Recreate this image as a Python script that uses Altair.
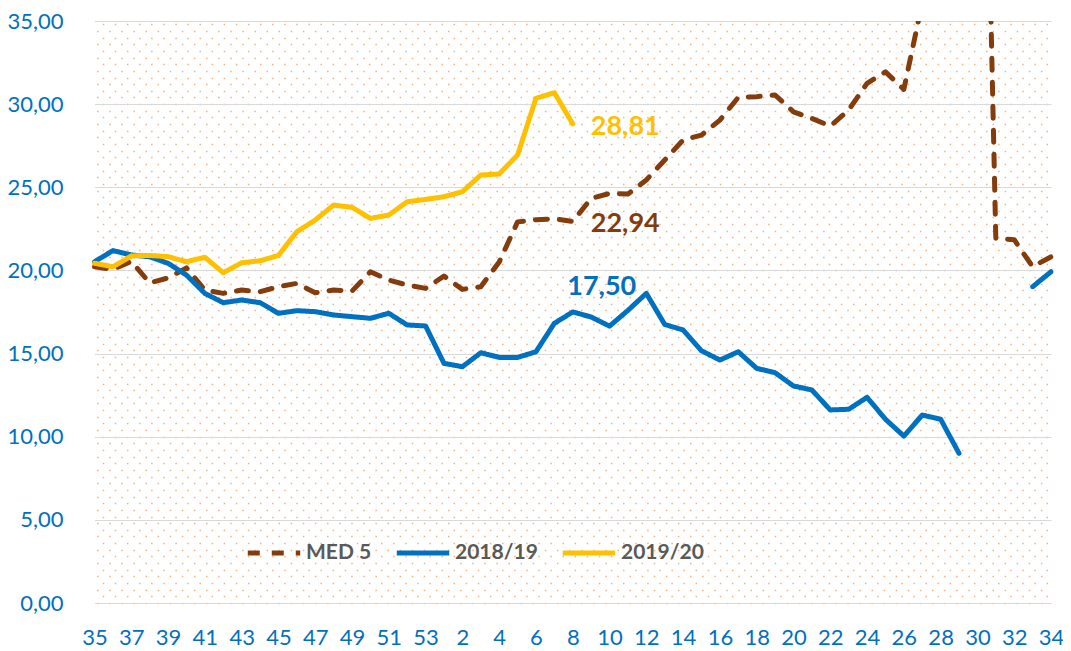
import altair as alt
import pandas as pd

# ---------------- data ----------------
weeks = [str(w) for w in list(range(35, 54)) + list(range(1, 35))]
x_label_values = weeks[::2]
y_ticks = [0, 5, 10, 15, 20, 25, 30, 35]

series_names = ["MED 5", "2018/19", "2019/20"]
series_colors = ["#843C0C", "#0070C0", "#FFC000"]

med5 = [20.22, 20.06, 20.55, 19.25, 19.55, 20.15, 18.82, 18.62, 18.82, 18.72,
        19.02, 19.22, 18.66, 18.82, 18.76, 19.92, 19.42, 19.12, 18.92, 19.66,
        18.86, 19.02, 20.50, 22.92, 23.05, 23.10, 22.94, 24.33, 24.63, 24.59,
        25.44, 26.64, 27.84, 28.14, 29.04, 30.41, 30.45, 30.55, 29.54, 29.14,
        28.68, 29.65, 31.25, 31.94, 30.89, 36.10, 45.00, 58.00, 72.00, 21.93,
        21.85, 20.22, 20.82]

s1819 = [20.52, 21.19, 20.93, 20.82, 20.43, 19.72, 18.62, 18.06, 18.22, 18.06,
         17.42, 17.58, 17.52, 17.32, 17.22, 17.12, 17.42, 16.72, 16.66, 14.41,
         14.21, 15.05, 14.77, 14.77, 15.11, 16.82, 17.50, 17.20, 16.65, 17.60,
         18.62, 16.75, 16.42, 15.17, 14.61, 15.11, 14.11, 13.85, 13.05, 12.81,
         11.61, 11.65, 12.37, 11.05, 10.04, 11.30, 11.05, 9.00, None, None,
         None, 19.02, 19.92]

s1920 = [20.43, 20.22, 20.87, 20.90, 20.83, 20.52, 20.79, 19.86, 20.46, 20.58,
         20.90, 22.33, 23.03, 23.93, 23.79, 23.13, 23.33, 24.13, 24.27, 24.43,
         24.73, 25.74, 25.80, 26.94, 30.35, 30.69, 28.81]

label_index = 26  # week 8


def fmt(v):
    return f"{v:.2f}".replace(".", ",")


rows = []
for name, vals in zip(series_names, [med5, s1819, s1920]):
    seg = 0
    gap = False
    for i, v in enumerate(vals):
        if v is None:
            gap = True
            continue
        if gap:
            seg += 1
            gap = False
        rows.append({"week": weeks[i], "value": v, "series": name,
                     "seg": f"{name}-{seg}", "order": i})
df = pd.DataFrame(rows)

# ---------------- styling ----------------
FONT = "Lato"
BLUE_TXT = "#0070C0"

y_scale = alt.Scale(domain=[0, 35], nice=False, zero=True)
x_enc = alt.X(
    "week:O", sort=weeks,
    scale=alt.Scale(type="point", range=[10.5, 967], padding=0),
    axis=alt.Axis(values=x_label_values, labelAngle=0, ticks=False, tickSize=0,
                  domain=False, grid=False, labelPadding=24, labelFont=FONT,
                  labelFontSize=22, labelColor=BLUE_TXT, title=None),
)

# dotted background pattern drawn as dashed grid rows (decoration)
row_step = 0.4
row_vals = [round(k * row_step, 2) for k in range(0, int(35 / row_step) + 1)]
rows_odd = [v for k, v in enumerate(row_vals) if k % 2 == 1]
rows_even = [v for k, v in enumerate(row_vals) if k % 2 == 0]


def pattern_layer(vals, offset):
    return alt.Chart(df).mark_line(strokeOpacity=0).encode(
        x=x_enc,
        y=alt.Y("value:Q", scale=y_scale,
                axis=alt.Axis(values=vals, grid=True, gridColor="#F4B183",
                              gridWidth=1.5, gridDash=[1.5, 10.6],
                              gridDashOffset=offset, labels=False, ticks=False,
                              domain=False, title=None, orient="right")),
        detail="seg:N",
    )


pat_a = pattern_layer(rows_odd, 7.1)
pat_b = pattern_layer(rows_even, 1.5)

legend = alt.Legend(title=None, orient="none", legendX=161, legendY=503,
                    direction="horizontal", symbolType="stroke",
                    symbolSize=2750, symbolStrokeWidth=5, labelFont=FONT,
                    labelFontSize=21, labelFontWeight="bold",
                    labelColor="#595959", labelOffset=3, columnPadding=14)

lines = alt.Chart(df).mark_line(strokeWidth=5, strokeCap="round",
                                strokeJoin="round", clip=True).encode(
    x=x_enc,
    y=alt.Y("value:Q", scale=y_scale,
            axis=alt.Axis(values=y_ticks, orient="left",
                          labelExpr="replace(format(datum.value, '.2f'), '.', ',')",
                          ticks=False, tickSize=0, domain=False, grid=True,
                          gridColor="#D9D9D9", gridWidth=1.2, labelPadding=21,
                          labelFont=FONT, labelFontSize=22,
                          labelColor=BLUE_TXT, title=None)),
    color=alt.Color("series:N", scale=alt.Scale(domain=series_names,
                                                range=series_colors),
                    legend=legend),
    strokeDash=alt.StrokeDash("series:N",
                              scale=alt.Scale(domain=series_names,
                                              range=[[12, 12], [1, 0], [1, 0]]),
                              legend=legend),
    detail="seg:N",
    order="order:Q",
)


def value_label(vals, color, dx, dy, align):
    d = pd.DataFrame({"week": [weeks[label_index]],
                      "value": [vals[label_index]],
                      "label": [fmt(vals[label_index])]})
    return alt.Chart(d).mark_text(align=align, baseline="middle", dx=dx, dy=dy,
                                  font=FONT, fontSize=27, fontWeight="bold",
                                  color=color).encode(
        x=x_enc,
        y=alt.Y("value:Q", scale=y_scale, axis=None),
        text="label:N",
    )


lab_1920 = value_label(s1920, series_colors[2], 18, 3, "left")
lab_med = value_label(med5, series_colors[0], 18, 2, "left")
lab_1819 = value_label(s1819, series_colors[1], 29, -25, "center")

chart = alt.layer(pat_a, pat_b, lines, lab_1920, lab_med, lab_1819).resolve_axis(
    y="independent"
).properties(
    width=979, height=582,
    padding={"left": 76, "top": 13, "right": 0, "bottom": 45},
    autosize=alt.AutoSizeParams(type="none"),
    background="white",
).configure_view(stroke=None)

chart.save("out.html", embed_options={"renderer": "svg", "actions": False})
